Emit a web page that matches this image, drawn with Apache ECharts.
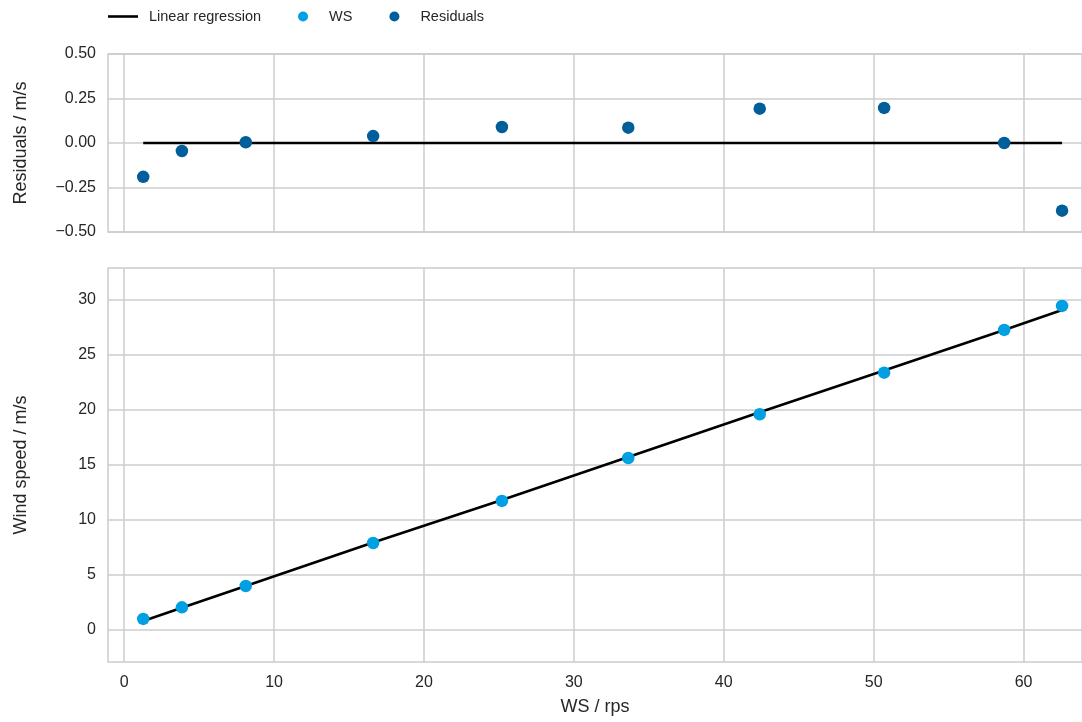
<!DOCTYPE html>
<html><head><meta charset="utf-8">
<script src="https://cdn.jsdelivr.net/npm/echarts@6/dist/echarts.min.js"></script>
<style>html,body{margin:0;padding:0;background:#fff}#c{width:1082px;height:722px}</style>
</head><body><div id="c"></div>
<script>
// Data
const rps = [1.27, 3.85, 8.11, 16.61, 25.20, 33.63, 42.40, 50.70, 58.71, 62.57];
const windSpeed = [0.94, 2.00, 3.94, 7.86, 11.69, 15.60, 19.58, 23.37, 27.26, 29.45];
const regressionFit = [0.75, 1.96, 3.94, 7.90, 11.78, 15.69, 19.77, 23.57, 27.26, 29.07];
const residuals = [-0.19, -0.045, 0.004, 0.039, 0.09, 0.086, 0.193, 0.197, 0.0, -0.38];
const residualZero = [0, 0];
const xTicks = [0, 10, 20, 30, 40, 50, 60];
const resTicks = [-0.5, -0.25, 0, 0.25, 0.5];
const wsTicks = [0, 5, 10, 15, 20, 25, 30];

const FONT = '"Liberation Sans", Arial, sans-serif';
const TXT = '#262626';
const GRIDC = '#cccccc';
const C_WS = '#00a0e3';
const C_RES = '#005e9a';

const pairs = (xs, ys) => xs.map((x, i) => [x, ys[i]]);
const fmtRes = v => (v < 0 ? '\u2212' : '') + Math.abs(v).toFixed(2);

const xBase = (idx, showLabels) => ({
  type: 'value', gridIndex: idx, min: -1.08, max: 63.9,
  axisLine: { show: false }, axisTick: { show: false, customValues: xTicks },
  axisLabel: { show: showLabels, customValues: xTicks, color: TXT, fontFamily: FONT, fontSize: 16, margin: 13 },
  splitLine: { show: true, lineStyle: { color: GRIDC, width: 1.5 } }
});

const chart = echarts.init(document.getElementById('c'), null, { renderer: 'canvas' });
chart.setOption({
  animation: false,
  backgroundColor: '#ffffff',
  textStyle: { fontFamily: FONT, color: TXT },
  legend: {
    data: [
      { name: 'Linear regression', icon: 'path://M0,0L30,0L30,2.6L0,2.6Z' },
      { name: 'WS', icon: 'circle' },
      { name: 'Residuals', icon: 'circle' }
    ],
    symbolKeepAspect: true,
    left: 108, top: 9, padding: 0, itemWidth: 30, itemHeight: 10, itemGap: 37,
    textStyle: { fontFamily: FONT, fontSize: 14.5, color: TXT, padding: [0, 0, 0, 6] }
  },
  grid: [
    { left: 108, right: -2, top: 54, height: 178, show: true, borderColor: GRIDC, borderWidth: 1.5, backgroundColor: 'transparent' },
    { left: 108, right: -2, top: 268, height: 394, show: true, borderColor: GRIDC, borderWidth: 1.5, backgroundColor: 'transparent' }
  ],
  xAxis: [
    xBase(0, false),
    Object.assign(xBase(1, true), {
      name: 'WS / rps', nameLocation: 'middle', nameGap: 36,
      nameTextStyle: { color: TXT, fontFamily: FONT, fontSize: 18 }
    })
  ],
  yAxis: [
    {
      type: 'value', gridIndex: 0, min: -0.5, max: 0.5, interval: 0.25,
      axisLine: { show: false }, axisTick: { show: false },
      axisLabel: { color: TXT, fontFamily: FONT, fontSize: 16, margin: 12, formatter: fmtRes },
      splitLine: { show: true, lineStyle: { color: GRIDC, width: 1.5 } },
      name: 'Residuals / m/s', nameLocation: 'middle', nameGap: 78, nameRotate: 90,
      nameTextStyle: { color: TXT, fontFamily: FONT, fontSize: 18 }
    },
    {
      type: 'value', gridIndex: 1, min: -2.98, max: 32.9,
      axisLine: { show: false }, axisTick: { show: false, customValues: wsTicks },
      axisLabel: { color: TXT, fontFamily: FONT, fontSize: 16, margin: 12, customValues: wsTicks },
      splitLine: { show: true, lineStyle: { color: GRIDC, width: 1.5 } },
      name: 'Wind speed / m/s', nameLocation: 'middle', nameGap: 78, nameRotate: 90,
      nameTextStyle: { color: TXT, fontFamily: FONT, fontSize: 18 }
    }
  ],
  series: [
    {
      name: 'Linear regression', type: 'line', xAxisIndex: 0, yAxisIndex: 0,
      data: [[rps[0], residualZero[0]], [rps[rps.length - 1], residualZero[1]]],
      showSymbol: false, symbol: 'none', lineStyle: { color: '#000', width: 2.6 }, itemStyle: { color: '#000' }, z: 2
    },
    {
      name: 'Residuals', type: 'scatter', xAxisIndex: 0, yAxisIndex: 0,
      data: pairs(rps, residuals), symbolSize: 12.5, itemStyle: { color: C_RES, opacity: 1 }, z: 3
    },
    {
      name: 'Linear regression', type: 'line', xAxisIndex: 1, yAxisIndex: 1,
      data: pairs(rps, regressionFit),
      showSymbol: false, symbol: 'none', lineStyle: { color: '#000', width: 2.6 }, itemStyle: { color: '#000' }, z: 2
    },
    {
      name: 'WS', type: 'scatter', xAxisIndex: 1, yAxisIndex: 1,
      data: pairs(rps, windSpeed), symbolSize: 12.5, itemStyle: { color: C_WS, opacity: 1 }, z: 3
    }
  ]
});
</script></body></html>
